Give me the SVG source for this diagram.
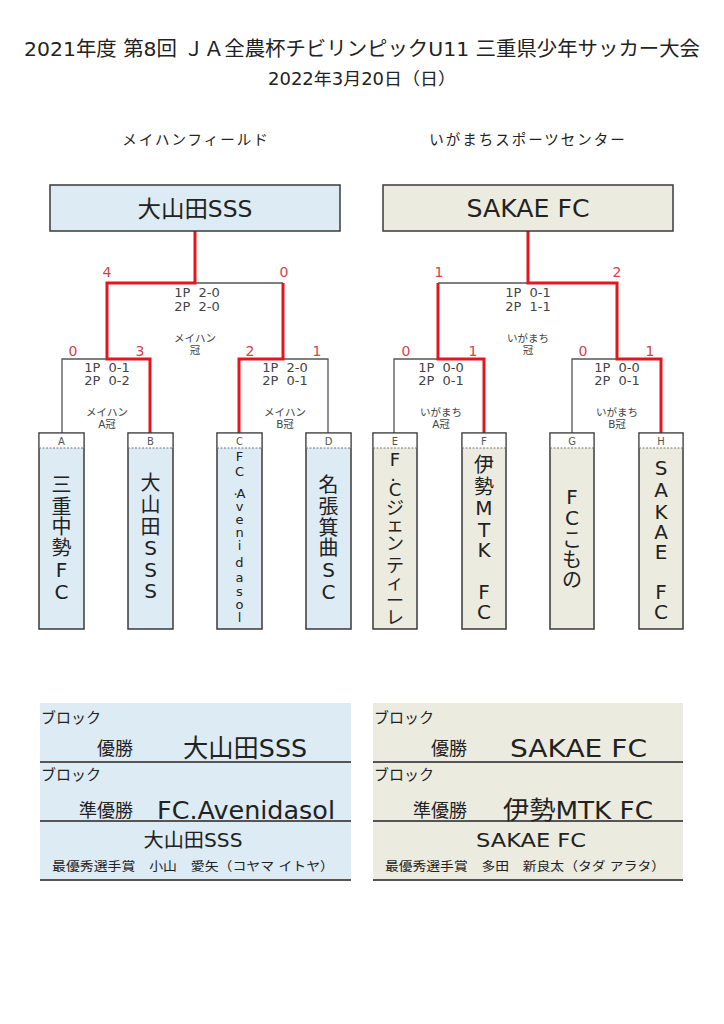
<svg xmlns="http://www.w3.org/2000/svg" width="724" height="1024" viewBox="0 0 724 1024">
<style>
text{font-family:"DejaVu Sans","Noto Sans CJK JP",sans-serif;fill:#222;dominant-baseline:central}
.c{text-anchor:middle}
.e{text-anchor:end}
.sc{font-size:13px;fill:#444;text-anchor:middle;white-space:pre}
.lb{font-size:10.5px;fill:#444;text-anchor:middle}
.num{font-size:14px;fill:#d8404c;text-anchor:middle}
.hd{font-size:10px;fill:#555;text-anchor:middle}
.blue{fill:#dcebf4}
.beige{fill:#ecebe0}
.box{stroke:#3a3a3a;stroke-width:1.5}
.gray{fill:none;stroke:#555;stroke-width:1.3}
.red{fill:none;stroke:#e3161e;stroke-width:3;stroke-linejoin:miter}
.sep{stroke:#555;stroke-width:2}
.tv{text-anchor:middle}
</style>
<rect width="724" height="1024" fill="#fff"/>
<g id="title">
<text class="c" x="362" y="49" font-size="20" textLength="676" lengthAdjust="spacingAndGlyphs">2021年度 第8回 ＪＡ全農杯チビリンピックU11 三重県少年サッカー大会</text>
<text class="c" x="362" y="79" font-size="17" textLength="188" lengthAdjust="spacingAndGlyphs">2022年3月20日（日）</text>
<text class="c" x="196" y="140" font-size="14.5" letter-spacing="2">メイハンフィールド</text>
<text class="c" x="528" y="140" font-size="14.5" letter-spacing="2">いがまちスポーツセンター</text>
</g>
<g id="connectors">
<path class="gray" d="M62,433V359H107M283,359H328V433M195,283H283"/>
<path class="gray" d="M394,433V359H438M572,433V359H617M438,283H528"/>
<path class="red" d="M150,433V359H107V283H195V231"/>
<path class="red" d="M239,433V359H283V283"/>
<path class="red" d="M484,433V359H438V283"/>
<path class="red" d="M661,433V359H617V283H528V231"/>
</g>
<g id="scores">
<text class="num" x="107" y="272">4</text>
<text class="num" x="284" y="272">0</text>
<text class="num" x="73" y="351">0</text>
<text class="num" x="140" y="351">3</text>
<text class="num" x="250" y="351">2</text>
<text class="num" x="317" y="351">1</text>
<text class="num" x="439" y="272">1</text>
<text class="num" x="617" y="272">2</text>
<text class="num" x="406" y="351">0</text>
<text class="num" x="473" y="351">1</text>
<text class="num" x="583" y="351">0</text>
<text class="num" x="650" y="351">1</text>
<text class="sc" x="197" y="292">1P  2-0</text>
<text class="sc" x="197" y="306">2P  2-0</text>
<text class="lb" x="195" y="338">メイハン</text>
<text class="lb" x="195" y="350">冠</text>
<text class="sc" x="107" y="367">1P  0-1</text>
<text class="sc" x="107" y="380">2P  0-2</text>
<text class="lb" x="107" y="412">メイハン</text>
<text class="lb" x="107" y="424">A冠</text>
<text class="sc" x="285" y="367">1P  2-0</text>
<text class="sc" x="285" y="380">2P  0-1</text>
<text class="lb" x="285" y="412">メイハン</text>
<text class="lb" x="285" y="424">B冠</text>
<text class="sc" x="528" y="292">1P  0-1</text>
<text class="sc" x="528" y="306">2P  1-1</text>
<text class="lb" x="528" y="338">いがまち</text>
<text class="lb" x="528" y="350">冠</text>
<text class="sc" x="441" y="367">1P  0-0</text>
<text class="sc" x="441" y="380">2P  0-1</text>
<text class="lb" x="441" y="412">いがまち</text>
<text class="lb" x="441" y="424">A冠</text>
<text class="sc" x="617" y="367">1P  0-0</text>
<text class="sc" x="617" y="380">2P  0-1</text>
<text class="lb" x="617" y="412">いがまち</text>
<text class="lb" x="617" y="424">B冠</text>
</g>
<g id="winner-meihan">
<rect class="blue box" x="50" y="185" width="290" height="46"/>
<text class="c" x="195" y="209" font-size="23" textLength="115" lengthAdjust="spacingAndGlyphs">大山田SSS</text>
</g>
<g id="winner-igamachi">
<rect class="beige box" x="383" y="185" width="290" height="46"/>
<text class="c" x="528" y="209" font-size="24" textLength="123" lengthAdjust="spacingAndGlyphs">SAKAE FC</text>
</g>
<g id="team-A">
<rect class="blue box" x="39" y="433" width="45" height="196"/>
<rect x="39.75" y="433.75" width="43.5" height="14.25" fill="#fff"/>
<line x1="39" y1="448" x2="84" y2="448" stroke="#777" stroke-dasharray="2,1.5"/>
<text class="hd" x="61.5" y="441">A</text>
<text class="tv" font-size="20" x="61.5 61.5 61.5 61.5 61.5 61.5" y="485 507 527 548 570 592">三重中勢FC</text>
</g>
<g id="team-B">
<rect class="blue box" x="128" y="433" width="45" height="196"/>
<rect x="128.75" y="433.75" width="43.5" height="14.25" fill="#fff"/>
<line x1="128" y1="448" x2="173" y2="448" stroke="#777" stroke-dasharray="2,1.5"/>
<text class="hd" x="150.5" y="441">B</text>
<text class="tv" font-size="20" x="150.5 150.5 150.5 150.5 150.5 150.5" y="483 505 527 548 570 591">大山田SSS</text>
</g>
<g id="team-C">
<rect class="blue box" x="217" y="433" width="45" height="196"/>
<rect x="217.75" y="433.75" width="43.5" height="14.25" fill="#fff"/>
<line x1="217" y1="448" x2="262" y2="448" stroke="#777" stroke-dasharray="2,1.5"/>
<text class="hd" x="239.5" y="441">C</text>
<text class="tv" font-size="13" x="239.5 239.5 235.5 241 239.5 239.5 239.5 239.5 239.5 239.5 239.5 239.5 239.5" y="456 471 490 493 506 519 532 545 562 577 591 604 617">FC.Avenidasol</text>
</g>
<g id="team-D">
<rect class="blue box" x="306" y="433" width="45" height="196"/>
<rect x="306.75" y="433.75" width="43.5" height="14.25" fill="#fff"/>
<line x1="306" y1="448" x2="351" y2="448" stroke="#777" stroke-dasharray="2,1.5"/>
<text class="hd" x="328.5" y="441">D</text>
<text class="tv" font-size="20" x="328.5 328.5 328.5 328.5 328.5 328.5" y="485 507 528 548 570 592">名張箕曲SC</text>
</g>
<g id="team-E">
<rect class="beige box" x="373" y="433" width="44" height="196"/>
<rect x="373.75" y="433.75" width="42.5" height="14.25" fill="#fff"/>
<line x1="373" y1="448" x2="417" y2="448" stroke="#777" stroke-dasharray="2,1.5"/>
<text class="hd" x="395" y="441">E</text>
<text class="tv" font-size="18" x="395 393 395 395 395 395 395 395 395 395" y="459 474 489 507 524 543 565 582 600 617">F.Cジェンティーレ</text>
</g>
<g id="team-F">
<rect class="beige box" x="462" y="433" width="44" height="196"/>
<rect x="462.75" y="433.75" width="42.5" height="14.25" fill="#fff"/>
<line x1="462" y1="448" x2="506" y2="448" stroke="#777" stroke-dasharray="2,1.5"/>
<text class="hd" x="484" y="441">F</text>
<text class="tv" font-size="20" x="484 484 484 484 484 484 484" y="465 487 508 530 550 592 612">伊勢MTKFC</text>
</g>
<g id="team-G">
<rect class="beige box" x="550" y="433" width="44" height="196"/>
<rect x="550.75" y="433.75" width="42.5" height="14.25" fill="#fff"/>
<line x1="550" y1="448" x2="594" y2="448" stroke="#777" stroke-dasharray="2,1.5"/>
<text class="hd" x="572" y="441">G</text>
<text class="tv" font-size="20" x="572 572 572 572 572" y="497 518 540 560 580">FCこもの</text>
</g>
<g id="team-H">
<rect class="beige box" x="639" y="433" width="44" height="196"/>
<rect x="639.75" y="433.75" width="42.5" height="14.25" fill="#fff"/>
<line x1="639" y1="448" x2="683" y2="448" stroke="#777" stroke-dasharray="2,1.5"/>
<text class="hd" x="661" y="441">H</text>
<text class="tv" font-size="20" x="661 661 661 661 661 661 661" y="468 490 512 532 552 592 612">SAKAEFC</text>
</g>
<g id="result-meihan">
<rect class="blue" x="40" y="703" width="311" height="177"/>
<line class="sep" x1="40" y1="762" x2="351" y2="762"/>
<line class="sep" x1="40" y1="821" x2="351" y2="821"/>
<line class="sep" x1="40" y1="880" x2="351" y2="880"/>
<text x="41" y="718" font-size="15">ブロック</text>
<text class="e" x="133" y="748" font-size="18">優勝</text>
<text x="183" y="748" font-size="25" textLength="124" lengthAdjust="spacingAndGlyphs">大山田SSS</text>
<text x="41" y="775" font-size="15">ブロック</text>
<text class="e" x="133" y="810" font-size="18">準優勝</text>
<text x="157" y="810" font-size="25" textLength="178" lengthAdjust="spacingAndGlyphs">FC.Avenidasol</text>
<text class="c" x="193" y="840" font-size="19" textLength="99" lengthAdjust="spacingAndGlyphs">大山田SSS</text>
<text x="52" y="866" font-size="12.5" textLength="282" lengthAdjust="spacingAndGlyphs" style="white-space:pre">最優秀選手賞　小山　愛矢（コヤマ イトヤ）</text>
</g>
<g id="result-igamachi">
<rect class="beige" x="373" y="703" width="310" height="177"/>
<line class="sep" x1="373" y1="762" x2="683" y2="762"/>
<line class="sep" x1="373" y1="821" x2="683" y2="821"/>
<line class="sep" x1="373" y1="880" x2="683" y2="880"/>
<text x="374" y="718" font-size="15">ブロック</text>
<text class="e" x="467" y="748" font-size="18">優勝</text>
<text x="510" y="748" font-size="25" textLength="137" lengthAdjust="spacingAndGlyphs">SAKAE FC</text>
<text x="374" y="775" font-size="15">ブロック</text>
<text class="e" x="467" y="810" font-size="18">準優勝</text>
<text x="503" y="810" font-size="25" textLength="150" lengthAdjust="spacingAndGlyphs">伊勢MTK FC</text>
<text class="c" x="531" y="840" font-size="19" textLength="110" lengthAdjust="spacingAndGlyphs">SAKAE FC</text>
<text x="385" y="866" font-size="12.5" textLength="280" lengthAdjust="spacingAndGlyphs" style="white-space:pre">最優秀選手賞　多田　新良太（タダ アラタ）</text>
</g>
</svg>
